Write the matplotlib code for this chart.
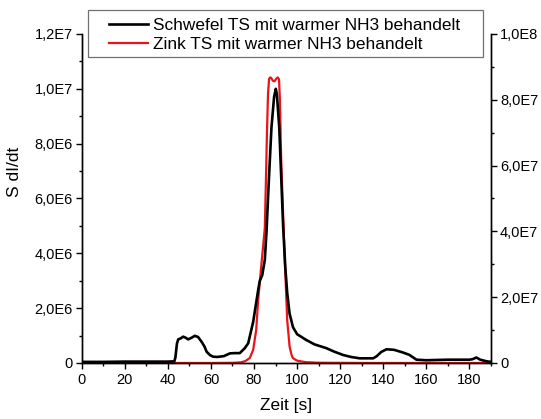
import matplotlib
matplotlib.use("Agg")
import matplotlib.pyplot as plt
from matplotlib.patches import Rectangle
from matplotlib.ticker import MultipleLocator, FuncFormatter

plt.rcParams['font.family'] = ['Liberation Sans', 'DejaVu Sans']

# Schwefel signal (left axis), values in units of 1E6
s_time = [0, 10, 20, 30, 40, 43, 43.5, 44.2, 44.8, 46, 47.1, 48.3, 49.4, 51, 52.5, 54,
          55.6, 57, 58, 59.5, 61, 63, 66, 68.8, 71, 73.4, 75.7, 77.3, 78, 79.6,
          81, 82, 82.7, 83.8, 85, 85.8, 86.6, 87.4, 88.1, 89.3, 90.1, 90.6, 91.7,
          92.5, 93.5, 94.5, 95.4, 96.5, 98.1, 100, 104, 108, 113.6, 117, 121.4,
          125, 129, 135.3, 137, 139, 141.5, 145, 149.2, 152, 155.4, 160, 170,
          180, 181.5, 183.2, 185, 188, 190]
s_vals = [0.04, 0.04, 0.05, 0.05, 0.05, 0.06, 0.2, 0.7, 0.86, 0.9, 0.96, 0.92, 0.86, 0.92, 0.99, 0.95,
          0.78, 0.6, 0.41, 0.29, 0.23, 0.22, 0.25, 0.35, 0.36, 0.36, 0.54, 0.72, 0.96, 1.5,
          2.2, 2.7, 3.0, 3.2, 3.76, 4.8, 6.2, 7.5, 8.6, 9.7, 10.0, 9.8, 8.6,
          7.0, 5.0, 3.5, 2.55, 1.8, 1.3, 1.05, 0.85, 0.68, 0.54, 0.42, 0.29,
          0.22, 0.17, 0.17, 0.25, 0.4, 0.5, 0.48, 0.38, 0.3, 0.12, 0.1, 0.12,
          0.12, 0.14, 0.2, 0.12, 0.06, 0.04]

# Zink signal (right axis), values in units of 1E6
z_time = [0, 20, 40, 60, 70, 74, 76, 78, 79.6, 81, 81.9, 83, 84, 85, 85.5, 86, 86.5,
          87, 87.5, 88, 88.7, 89.5, 90.3, 91, 91.6, 92, 92.6, 93.5, 94.3, 95.4,
          96.5, 97.4, 98, 100, 104, 110, 130, 160, 190]
z_vals = [0, 0, 0, 0, 0.05, 0.2, 0.6, 1.5, 4.0, 10, 19, 27, 34, 41, 55, 70, 82,
          86.4, 86.8, 86.6, 85.8, 85.6, 86.4, 86.8, 86.2, 80, 62, 45, 31, 13,
          5, 2.5, 1.5, 0.7, 0.25, 0.08, 0, 0, 0]

legend_labels = ["Schwefel TS mit warmer NH3 behandelt",
                 "Zink TS mit warmer NH3 behandelt"]
xlabel = "Zeit [s]"
ylabel = "S dI/dt"


def comma_sci(v, pos):
    """Format tick values like 1,2E7 (German decimal comma)."""
    if abs(v) < 1e-9:
        return "0"
    exp = 0
    m = abs(v)
    while m >= 10:
        m /= 10
        exp += 1
    while m < 1:
        m *= 10
        exp -= 1
    sign = "-" if v < 0 else ""
    return f"{sign}{m:.1f}".replace(".", ",") + f"E{exp}"


W, H = 541, 419
fig = plt.figure(figsize=(W / 100, H / 100), dpi=100)
ax = fig.add_axes([0.151, 0.1337, 0.7566, 0.7852])
ax2 = ax.twinx()

l1, = ax.plot(s_time, [v * 1e6 for v in s_vals], color='black', lw=1.9,
              solid_joinstyle='round')
l2, = ax2.plot(z_time, [v * 1e6 for v in z_vals], color='#e8141c', lw=1.6,
               solid_joinstyle='round')
ax2.set_zorder(ax.get_zorder() - 1)
ax.patch.set_visible(False)

ax.set_xlim(0, 190)
ax.set_ylim(0, 1.2e7)
ax2.set_ylim(0, 1.0e8)

for a in (ax, ax2):
    a.spines['top'].set_visible(False)
    for s in a.spines.values():
        s.set_linewidth(1.0)

ax.xaxis.set_major_locator(MultipleLocator(20))
ax.xaxis.set_minor_locator(MultipleLocator(10))
ax.yaxis.set_major_locator(MultipleLocator(2e6))
ax.yaxis.set_minor_locator(MultipleLocator(1e6))
ax2.yaxis.set_major_locator(MultipleLocator(2e7))
ax2.yaxis.set_minor_locator(MultipleLocator(1e7))
ax.yaxis.set_major_formatter(FuncFormatter(comma_sci))
ax2.yaxis.set_major_formatter(FuncFormatter(comma_sci))

ax.tick_params(axis='both', which='major', direction='out', length=4.5, width=1.0,
               labelsize=10.5, colors='black', pad=2)
ax.tick_params(axis='both', which='minor', direction='out', length=2.5, width=1.0)
ax.tick_params(axis='x', labelsize=10.5, pad=3)
ax2.tick_params(axis='y', which='major', direction='out', length=4.5, width=1.0,
                labelsize=10.5, pad=2)
ax2.tick_params(axis='y', which='minor', direction='out', length=2.5, width=1.0)
ax.tick_params(axis='y', which='both', right=False)

ax.set_xlabel(xlabel, fontsize=12.5)
ax.xaxis.set_label_coords(0.5, -0.128)
ax.xaxis.label.set(va='center')
ax.set_ylabel(ylabel, fontsize=12.5)
ax.yaxis.label.set(rotation_mode='default', va='center', ha='center')
ax.yaxis.set_label_coords(-0.163, 0.581)

# legend frame drawn as a separate box, entries placed inside it
box = Rectangle((88.3 / W, 1 - 57.3 / H), (483.3 - 88.3) / W, 47.3 / H,
                transform=fig.transFigure, facecolor='white', edgecolor='#707070',
                lw=0.9, zorder=4)
fig.add_artist(box)
leg = fig.legend([l1, l2], legend_labels, loc='upper left',
                 bbox_to_anchor=(109.3 / W, 1 - 17.6 / H),
                 fontsize=12.4, frameon=False,
                 handlelength=2.27, handletextpad=0.26, borderpad=0,
                 labelspacing=0.27, borderaxespad=0)
leg.set_zorder(5)

fig.savefig("out.png", dpi=100)
